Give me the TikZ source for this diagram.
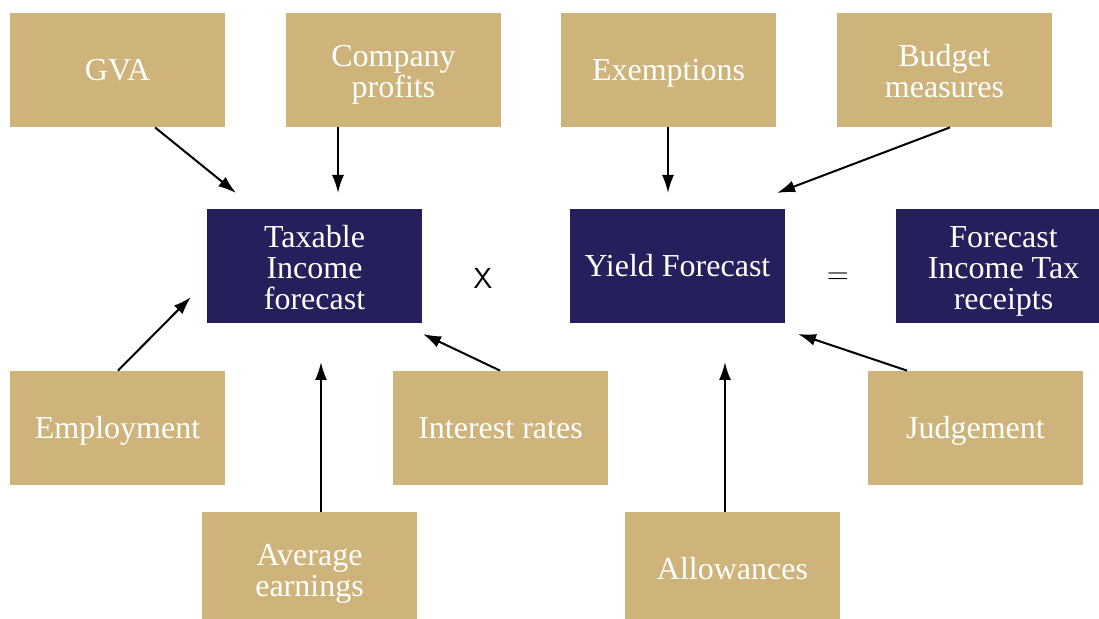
\documentclass[tikz,border=0pt]{standalone}
\usepackage{fontspec}
\setmainfont{Liberation Serif}
\usetikzlibrary{arrows.meta}
\definecolor{tan}{RGB}{206,180,122}
\definecolor{navy}{RGB}{37,31,91}
\tikzset{
  driver/.style={fill=tan,text=white,minimum width=107.5pt,minimum height=57pt,
    align=center,inner sep=0pt,font=\fontsize{16}{15.5}\selectfont,
    execute at begin node={\rule{0pt}{14.6pt}},
    execute at end node={\rule[-3.6pt]{0pt}{3.6pt}}},
  calcbox/.style={driver,fill=navy},
  lines/.style={execute at begin node={\rule{0pt}{#1}}},
  flow/.style={-{Latex[length=9pt,width=6pt]},line width=1pt},
  oper/.style={font=\sffamily\fontsize{14.5}{16}\selectfont}
}
\begin{document}
\begin{tikzpicture}[x=0.5pt,y=-0.5pt]
\useasboundingbox (0,0) rectangle (1099,619);
\clip (0,0) rectangle (1099,619);
% top row
\node[driver] (gva) at (117.5,70) {GVA};
\node[driver,lines=31.5pt] (profits) at (393.5,70) {Company\\profits};
\node[driver] (exempt) at (668.5,70) {Exemptions};
\node[driver,lines=31.5pt] (budget) at (944.5,70) {Budget\\measures};

% middle row
\node[calcbox,lines=47pt] (taxable) at (314.5,266) {Taxable\\Income\\forecast};
\node[calcbox] (yield) at (677.5,266) {Yield Forecast};
\node[calcbox,lines=47pt] (receipts) at (1003.5,266) {Forecast\\Income Tax\\receipts};
\node[oper] (times) at (483,278) {X};
\node[oper] (equals) at (838,278) {=};

% bottom rows
\node[driver] (employ) at (117.5,428) {Employment};
\node[driver] (interest) at (500.5,428) {Interest rates};
\node[driver] (judge) at (975.5,428) {Judgement};
\node[driver,lines=31.5pt] (earnings) at (309.5,569) {Average\\earnings};
\node[driver] (allow) at (732.5,569) {Allowances};

% free arrow ends
\coordinate (t1) at (236,193);
\coordinate (t2) at (338,193);
\coordinate (t3) at (191,297);
\coordinate (t4) at (321,362);
\coordinate (t5) at (423,334);
\coordinate (y1) at (668,193);
\coordinate (y2) at (777,193);
\coordinate (y3) at (725,362);
\coordinate (y4) at (798,334);

\draw[flow] (gva.south -| 155,0) -- (t1);
\draw[flow] (profits.south -| t2) -- (t2);
\draw[flow] (employ.north -| 118,0) -- (t3);
\draw[flow] (earnings.north -| t4) -- (t4);
\draw[flow] (interest.north -| 500,0) -- (t5);
\draw[flow] (exempt.south -| y1) -- (y1);
\draw[flow] (budget.south -| 950,0) -- (y2);
\draw[flow] (allow.north -| y3) -- (y3);
\draw[flow] (judge.north -| 907,0) -- (y4);
\end{tikzpicture}
\end{document}
